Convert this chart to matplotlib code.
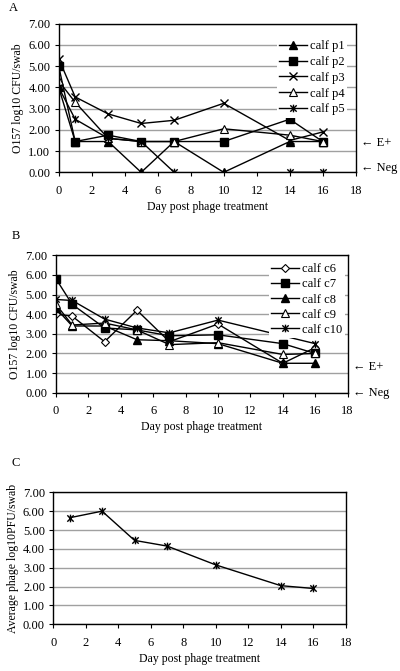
import matplotlib
matplotlib.use("Agg")
import matplotlib.pyplot as plt
from matplotlib.path import Path
import numpy as np

plt.rcParams['font.family'] = ['Liberation Serif', 'DejaVu Serif']

# ---------------- data ----------------
days = [0, 1, 3, 5, 7, 10, 14, 16]

# Panel A (phage-treated calves)
calf_p1 = [4.00, 1.45, 1.45, 0.00, 1.45, 0.00, 1.45, 1.45]
calf_p2 = [5.00, 1.45, 1.75, 1.45, 1.45, 1.45, 2.50, 1.45]
calf_p3 = [5.35, 3.55, 2.75, 2.30, 2.45, 3.25, 1.50, 1.90]
calf_p4 = [4.30, 3.30, 1.60, 1.45, 1.45, 2.05, 1.75, 1.45]
calf_p5 = [4.00, 2.50, 1.60, 1.45, 0.00, None, 0.00, 0.00]

# Panel B (control calves)
calf_c6 = [4.00, 3.90, 2.60, 4.20, 2.60, 3.50, 1.50, 2.30]
calf_c7 = [5.80, 4.50, 3.30, 3.20, 2.90, 2.95, 2.50, 2.00]
calf_c8 = [4.30, 3.40, 3.40, 2.70, 2.65, 2.50, 1.50, 1.50]
calf_c9 = [4.50, 3.45, 3.55, 3.20, 2.45, 2.55, 1.95, 2.00]
calf_c10 = [4.75, 4.70, 3.75, 3.30, 3.05, 3.70, None, 2.50]

# Panel C (average phage)
phage_days = [1, 3, 5, 7, 10, 14, 16]
phage_avg = [5.65, 6.00, 4.45, 4.15, 3.15, 2.05, 1.90]

xticks = list(range(0, 20, 2))
yticks = [0, 1, 2, 3, 4, 5, 6, 7]
ytick_labels = ["%.2f" % v for v in yticks]

# asterisk marker (x plus vertical bar)
ast = Path([(-1, -1), (1, 1), (-1, 1), (1, -1), (0, -1.2), (0, 1.2)],
           [Path.MOVETO, Path.LINETO, Path.MOVETO, Path.LINETO, Path.MOVETO, Path.LINETO])

TICK_FS = 9
LABEL_FS = 8.5
LEG_FS = 9

def to_arr(v):
    return np.array([np.nan if x is None else x for x in v], dtype=float)

def style_axes(ax, ylabel):
    ax.set_xlim(0, 18)
    ax.set_ylim(0, 7)
    ax.set_xticks(xticks)
    ax.set_yticks(yticks)
    ax.set_yticklabels(ytick_labels)
    ax.yaxis.grid(True, color='#a0a0a0', linewidth=1.0)
    ax.set_axisbelow(True)
    for s in ax.spines.values():
        s.set_color('black')
        s.set_linewidth(1.0)
    ax.tick_params(axis='both', direction='out', length=3, width=0.8, labelsize=TICK_FS)
    ax.tick_params(axis='x', pad=6)
    ax.tick_params(axis='y', pad=3)
    ax.set_xlabel("Day post phage treatment", fontsize=LABEL_FS, labelpad=3)
    ax.set_ylabel(ylabel, fontsize=LABEL_FS, labelpad=3)

def side_notes(ax, e_y, n_y):
    ax.text(18.35, e_y, "\u2190 E+", fontsize=TICK_FS, va='center', ha='left', clip_on=False)
    ax.text(18.35, n_y, "\u2190 Neg", fontsize=TICK_FS, va='center', ha='left', clip_on=False)

fig = plt.figure(figsize=(4.0, 6.71), dpi=100)

lw = 1.0
ms = 5.5

def legend(ax, anchor, spacing):
    leg = ax.legend(loc='upper right', bbox_to_anchor=anchor, fontsize=LEG_FS, frameon=True,
                    handlelength=2.2, handletextpad=0.25, labelspacing=spacing, borderpad=0.2,
                    borderaxespad=0)
    leg.get_frame().set_facecolor('white')
    leg.get_frame().set_edgecolor('none')
    leg.get_frame().set_alpha(1)
    return leg

# ---------------- Panel A ----------------
axA = fig.add_axes([0.1467, 0.7432, 0.7425, 0.2215])
axA.plot(days, to_arr(calf_p1), color='black', lw=lw, marker='^', ms=ms, mfc='black', mec='black', label='calf p1')
axA.plot(days, to_arr(calf_p2), color='black', lw=lw, marker='s', ms=ms, mfc='black', mec='black', label='calf p2')
axA.plot(days, to_arr(calf_p3), color='black', lw=lw, marker='x', ms=ms + 0.5, mew=1.0, label='calf p3')
axA.plot(days, to_arr(calf_p4), color='black', lw=lw, marker='^', ms=ms, mfc='white', mec='black', mew=0.8, label='calf p4')
axA.plot(days, to_arr(calf_p5), color='black', lw=lw, marker=ast, ms=ms, mfc='none', mec='black', mew=1.0, label='calf p5')
style_axes(axA, "O157 log10 CFU/swab")
legend(axA, (0.97, 0.905), 0.3)
side_notes(axA, 1.40, 0.18)
fig.text(0.022, 0.988, "A", fontsize=LABEL_FS + 0.5, va='center', ha='left')

# ---------------- Panel B ----------------
axB = fig.add_axes([0.14, 0.4147, 0.729, 0.2048])
axB.plot(days, to_arr(calf_c6), color='black', lw=lw, marker='D', ms=4.5, mfc='white', mec='black', mew=0.8, label='calf c6')
axB.plot(days, to_arr(calf_c7), color='black', lw=lw, marker='s', ms=ms, mfc='black', mec='black', label='calf c7')
axB.plot(days, to_arr(calf_c8), color='black', lw=lw, marker='^', ms=ms, mfc='black', mec='black', label='calf c8')
axB.plot(days, to_arr(calf_c9), color='black', lw=lw, marker='^', ms=ms, mfc='white', mec='black', mew=0.8, label='calf c9')
axB.plot(days, to_arr(calf_c10), color='black', lw=lw, marker=ast, ms=ms, mfc='none', mec='black', mew=1.0, label='calf c10')
# connect c10 across the missing day 14
c10 = to_arr(calf_c10)
axB.plot([days[5], days[7]], [c10[5], c10[7]], color='black', lw=lw, zorder=1.5)
style_axes(axB, "O157 log10 CFU/swab")
legend(axB, (0.99, 0.96), 0.25)
side_notes(axB, 1.33, 0.0)
fig.text(0.03, 0.648, "B", fontsize=LABEL_FS + 0.5, va='center', ha='left')

# ---------------- Panel C ----------------
axC = fig.add_axes([0.1333, 0.0696, 0.731, 0.1967])
axC.plot(phage_days, phage_avg, color='black', lw=lw, marker=ast, ms=ms, mfc='none', mec='black', mew=1.0)
style_axes(axC, "Average phage log10PFU/swab")
fig.text(0.03, 0.31, "C", fontsize=LABEL_FS + 0.5, va='center', ha='left')

fig.savefig("out.png", dpi=100, facecolor='white')
